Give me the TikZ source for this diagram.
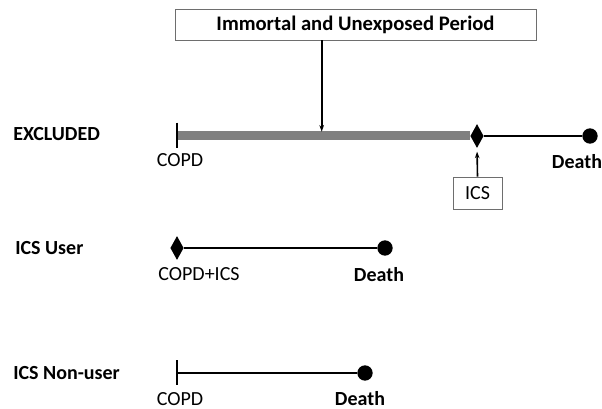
\documentclass[tikz,border=0pt]{standalone}
\usepackage{fontspec}
\setmainfont{Carlito}
\usetikzlibrary{shapes.geometric,arrows.meta}

\definecolor{bargray}{RGB}{128,128,128}
\definecolor{boxgray}{RGB}{110,110,110}

\tikzset{
  lbl/.style={font=\fontsize{15}{17}\selectfont, inner sep=0pt},
  blbl/.style={lbl, font=\fontsize{15}{17}\selectfont\bfseries},
  dot/.style={circle, fill=black, inner sep=0pt, minimum size=11.5pt},
  start/.style={diamond, fill=black, inner sep=0pt, minimum width=10pt, minimum height=18pt},
  textbox/.style={draw=boxgray, line width=0.7pt, inner sep=0pt},
  pointer/.style={line width=1.2pt, -{Stealth[length=5pt,width=3.5pt]}},
  period/.style={line width=1.4pt},
  tick/.style={line width=1.4pt},
  bar/.style={draw=bargray, line width=6.75pt}
}

\begin{document}
\begin{tikzpicture}[x=0.75pt,y=-0.75pt]
  \useasboundingbox (0,0) rectangle (602,409);

  % boxes
  \node[textbox, blbl, font=\fontsize{15.5}{17}\selectfont\bfseries, minimum width=270.75pt, minimum height=23.25pt] (immortal) at (355.5,24.5) {Immortal and Unexposed Period};
  \node[textbox, lbl, minimum width=36.75pt, minimum height=24pt] (ics) at (477.5,193) {ICS};

  % row labels
  \begin{scope}[every node/.style={blbl, anchor=west}]
    \node (excluded) at (13,134) {EXCLUDED};
    \node (user) at (15,248) {ICS User};
    \node (nonuser) at (13,373) {ICS Non-user};
  \end{scope}

  % events
  \coordinate (excl-copd) at (177,136);
  \node[start] (excl-ics) at (477,136) {};
  \node[dot] (excl-death) at (590,136) {};
  \coordinate (excl-hit) at (321.7,131.7);

  \node[start] (user-copd) at (177,248) {};
  \node[dot] (user-death) at (385,248) {};

  \coordinate (non-copd) at (177,373);
  \node[dot] (non-death) at (365,373) {};

  % event labels
  \node[lbl] at (180,160) {COPD};
  \node[blbl] at (577,162) {Death};
  \node[lbl] at (199,274) {COPD+ICS};
  \node[blbl] at (379,275) {Death};
  \node[lbl] at (180,399) {COPD};
  \node[blbl] at (360,399) {Death};

  % timelines
  \draw[bar] (excl-copd) -- (excl-ics.west);
  \draw[period] (excl-ics) -- (excl-death);
  \draw[period] (user-copd) -- (user-death);
  \draw[period] (non-copd) -- (non-death);

  \draw[tick] (177,122.7) -- (177,148);
  \draw[tick] (177,360) -- (177,385);

  % pointers
  \draw[pointer] (immortal.south -| excl-hit) -- (excl-hit);
  \draw[pointer, shorten >=2.5pt] (ics.north) -- (excl-ics.south);

\end{tikzpicture}
\end{document}
